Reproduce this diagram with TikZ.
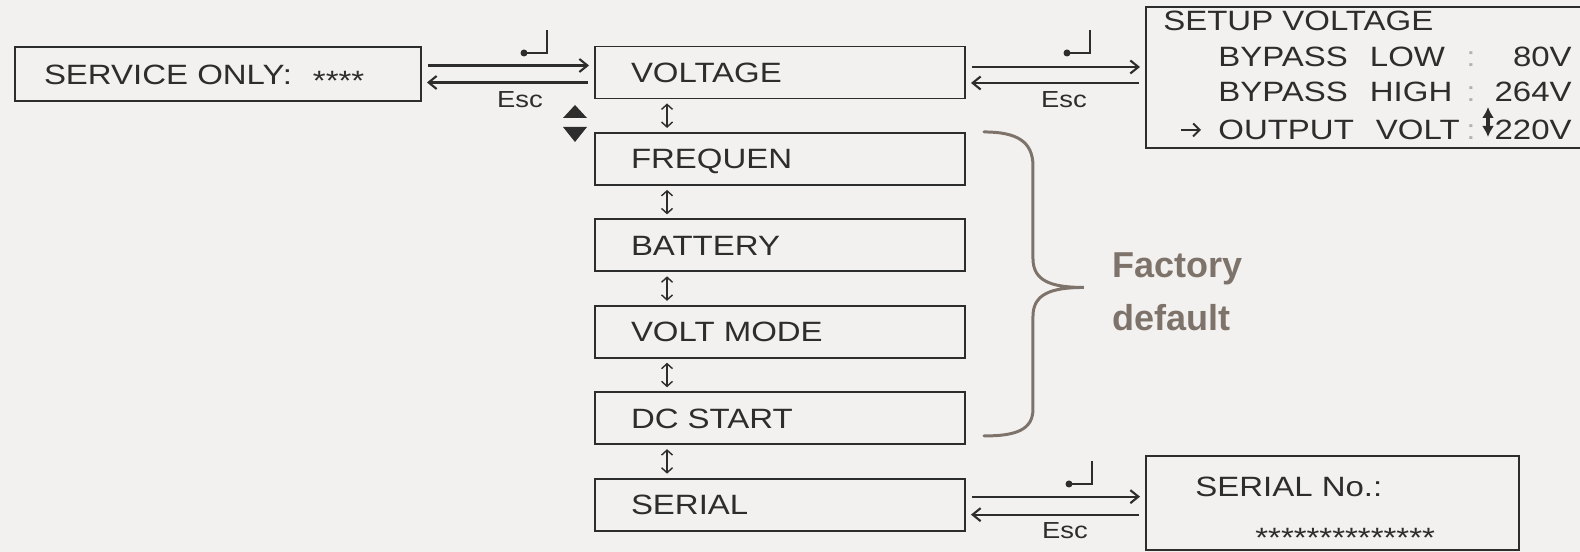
\documentclass[tikz,border=0pt]{standalone}
\usepackage{fontspec}
\setmainfont{Liberation Sans}
\newfontfamily\lcdfont{Liberation Sans}[FakeStretch=1.18]
\usepackage{xcolor}
\usepackage{tikz}
\usetikzlibrary{arrows.meta,positioning}

\definecolor{panelbg}{RGB}{243,241,239}
\definecolor{lcdink}{RGB}{45,45,45}
\definecolor{bracegray}{RGB}{125,115,107}

% left-aligned line of an LCD menu entry
\newcommand{\menuline}[2][5.96cm]{\makebox[#1][l]{#2}}

\begin{document}
\begin{tikzpicture}[
  >=Stealth,
  every node/.style={font=\lcdfont\fontsize{15.9}{20}\selectfont, text=lcdink},
  lcd/.style={rectangle, draw=lcdink, line width=1.1pt, fill=panelbg,
    text height=11.4pt, text depth=0pt},
  menu/.style={lcd, minimum height=1.04cm, inner xsep=0.72cm},
  lcdtext/.style={inner sep=0pt, anchor=base west, text height=11.4pt, text depth=0pt},
  dim/.style={lcdtext, text=black!30},
  fwd/.style={-{Straight Barb[length=1.6mm,width=2.6mm]}, line width=1.2pt, draw=lcdink,
    shorten <=0.12cm, shorten >=0.1cm},
  updown/.style={{Straight Barb[length=1mm,width=2.2mm]}-{Straight Barb[length=1mm,width=2.2mm]},
    line width=0.8pt, draw=lcdink},
  esckey/.style={font=\lcdfont\fontsize{13.2}{16}\selectfont, inner sep=0pt,
    text height=9.45pt, text depth=0pt},
  enterkey/.pic={
    \fill[lcdink] (-0.46,0) circle (0.07);
    \draw[lcdink, line width=1.1pt] (-0.46,0) -- (0,0) -- (0,0.46);
  },
  brace/.style={draw=bracegray, line width=1.7pt, line cap=round},
]

% Canvas
\useasboundingbox (0,0) rectangle (31.6,11.04);
\fill[panelbg] (0,0) rectangle (31.6,11.04);

% Left: password screen
\node[lcd, minimum height=1.08cm, inner xsep=0.58cm] (serv) at (4.36, 9.56)
      {\menuline[6.96cm]{SERVICE ONLY:\hspace{0.75em}\raisebox{-0.22em}{****}}};

% Menu column
\node[menu] (volt) at (15.6, 9.59) {\menuline{VOLTAGE}};
\node[menu, below=0.65cm of volt] (freq) {\menuline{FREQUEN}};
\node[menu, below=0.65cm of freq] (batt) {\menuline{BATTERY}};
\node[menu, below=0.65cm of batt] (vmode) {\menuline{VOLT MODE}};
\node[menu, below=0.65cm of vmode] (dcst) {\menuline{DC START}};
\node[menu, below=0.65cm of dcst] (serial) {\menuline{SERIAL}};

% Right: setup voltage screen
\node[lcd, minimum width=9.3cm, minimum height=2.82cm, anchor=north west] (setup) at (22.9, 10.92) {};
\node[lcdtext] (stitle) at (23.26, 10.43) {SETUP VOLTAGE};
\node[lcdtext] (blow) at (24.36, 9.70) {BYPASS\hspace{0.79em}LOW};
\node[lcdtext] (bhigh) at (24.36, 9.00) {BYPASS\hspace{0.79em}HIGH};
\node[lcdtext] (ovolt) at (24.36, 8.24) {OUTPUT\hspace{0.79em}VOLT};
\node[dim] (col1) at (29.32, 9.70) {:};
\node[dim] (col2) at (29.32, 9.00) {:};
\node[dim] (col3) at (29.32, 8.24) {:};
\node[lcdtext, anchor=base east] (vlow) at (31.44, 9.70) {80V};
\node[lcdtext, anchor=base east] (vhigh) at (31.44, 9.00) {264V};
\node[lcdtext, anchor=base east] (vout) at (31.44, 8.24) {220V};
\draw[-{Straight Barb[length=1.3mm,width=2.6mm]}, line width=1.1pt, lcdink]
  ([xshift=-0.74cm]ovolt.west) -- ([xshift=-0.34cm]ovolt.west);
\draw[{Latex[length=2.2mm,width=2.4mm]}-{Latex[length=2.2mm,width=2.4mm]}, line width=1.8pt, lcdink]
  (29.76,8.30) -- (29.76,8.90);

% Right: serial number screen
\node[lcd, minimum width=7.46cm, minimum height=1.88cm, anchor=north west] (serno) at (22.9, 1.94) {};
\node[lcdtext] (sertitle) at (23.9, 1.10) {SERIAL No.:};
\node[lcdtext, anchor=west] (serstars) at (25.1, 0.42) {\raisebox{-0.22em}{**************}};

% Enter / Esc pairs
\draw[fwd] ([yshift=0.17cm]serv.east) -- ([yshift=0.17cm]serv.east -| volt.west);
\draw[fwd] ([yshift=-0.17cm]serv.east -| volt.west) -- ([yshift=-0.17cm]serv.east);
\pic at (10.94, 9.98) {enterkey};
\node[esckey] (esc1) at (10.4, 9.06) {Esc};

\draw[fwd] ([yshift=0.11cm]volt.east) -- ([yshift=0.11cm]volt.east -| setup.west);
\draw[fwd] ([yshift=-0.21cm]volt.east -| setup.west) -- ([yshift=-0.21cm]volt.east);
\pic at (21.8, 9.98) {enterkey};
\node[esckey] (esc2) at (21.28, 9.06) {Esc};

\draw[fwd] ([yshift=0.16cm]serial.east) -- ([yshift=0.16cm]serial.east -| serno.west);
\draw[fwd] ([yshift=-0.2cm]serial.east -| serno.west) -- ([yshift=-0.2cm]serial.east);
\pic at (21.84, 1.36) {enterkey};
\node[esckey] (esc3) at (21.3, 0.44) {Esc};

% Up / down keys
\fill[lcdink] (11.26,8.68) -- (11.74,8.68) -- (11.5,8.94) -- cycle;
\fill[lcdink] (11.26,8.50) -- (11.74,8.50) -- (11.5,8.20) -- cycle;

% Scrolling between menu items
\draw[updown] ([xshift=1.46cm, yshift=-0.08cm]volt.south west) -- ([xshift=1.46cm, yshift=0.08cm]freq.north west);
\draw[updown] ([xshift=1.46cm, yshift=-0.08cm]freq.south west) -- ([xshift=1.46cm, yshift=0.08cm]batt.north west);
\draw[updown] ([xshift=1.46cm, yshift=-0.08cm]batt.south west) -- ([xshift=1.46cm, yshift=0.08cm]vmode.north west);
\draw[updown] ([xshift=1.46cm, yshift=-0.08cm]vmode.south west) -- ([xshift=1.46cm, yshift=0.08cm]dcst.north west);
\draw[updown] ([xshift=1.46cm, yshift=-0.08cm]dcst.south west) -- ([xshift=1.46cm, yshift=0.08cm]serial.north west);

% Factory default group
\draw[brace] ([xshift=0.36cm]freq.north east)
  .. controls +(0.64,0) and +(0,0.5) .. ++(0.98,-0.68)
  -- ++(0,-1.85)
  .. controls +(0,-0.45) and +(-0.66,0) .. ++(1.02,-0.58)
  .. controls +(-0.66,0) and +(0,0.45) .. ++(-1.02,-0.58)
  -- ++(0,-1.85)
  .. controls +(0,-0.42) and +(0.64,0) .. ++(-0.98,-0.54);
\node[anchor=west, align=left, inner sep=0pt, text=bracegray,
      font=\rmfamily\bfseries\fontsize{20.5}{30.2}\selectfont] (factory) at (22.24, 5.21) {Factory\\default};

\end{tikzpicture}
\end{document}
